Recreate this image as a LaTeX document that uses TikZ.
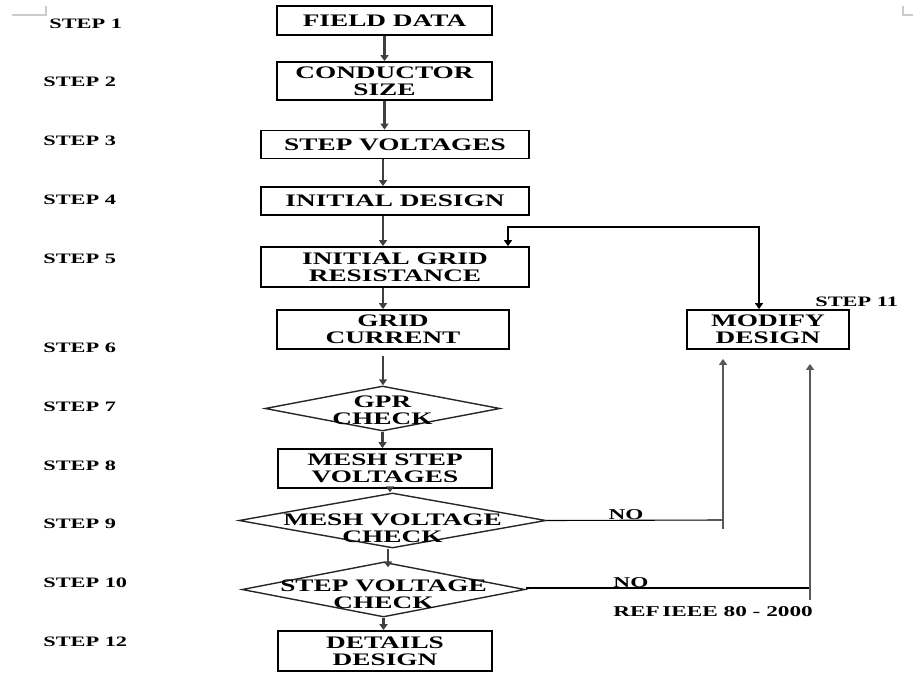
\documentclass[tikz,border=0pt]{standalone}
\usepackage{fontspec}
\setmainfont{Liberation Serif}[FakeStretch=1.55]
\usetikzlibrary{shapes.geometric, arrows.meta, positioning, calc}

\begin{document}
\begin{tikzpicture}[
    x=0.5pt, y=-0.5pt,
    >={Triangle[width=4pt,length=3pt]},
    procbox/.style={rectangle, draw=black, line width=0.9pt, inner sep=0pt, align=center, font=\fontsize{8.8}{8.5}\selectfont\bfseries},
    decision/.style={diamond, draw=black!85, line width=0.7pt, inner sep=0pt},
    dtext/.style={align=center, inner sep=0pt, font=\fontsize{8.8}{8.5}\selectfont\bfseries},
    steplabel/.style={anchor=west, inner sep=0pt, font=\fontsize{7.2}{8}\selectfont\bfseries},
    notelabel/.style={inner sep=0pt, font=\fontsize{7.5}{8}\selectfont\bfseries},
    flow/.style={->, draw=black!75, line width=1.2pt},
    loopline/.style={draw=black, line width=0.7pt},
    noline/.style={draw=black, line width=0.55pt},
    upline/.style={->, draw=black!65, line width=1.1pt},
    cornermark/.style={draw=black!20, line width=0.6pt}
]
\useasboundingbox (0,0) rectangle (913,673);

% Page corner marks
\draw[cornermark] (12,15) -- (46,15) -- (46,6);
\draw[cornermark] (903,6) -- (903,15) -- (913,15);

% Step labels
\node[steplabel] (step1) at (49,23.5) {STEP 1};
\foreach \num/\ypos in {2/82, 3/141, 4/200, 5/259, 6/348, 7/407, 8/466, 9/524, 10/583, 12/642}
    \node[steplabel] (step\num) at (43,\ypos) {STEP \num};
\node[steplabel] (step11) at (815,302) {STEP 11};

% Main column
\node[procbox, minimum width=107.5pt, minimum height=14.5pt] (field) at (384.5,20.5) {FIELD DATA};
\node[procbox, minimum width=107.5pt, minimum height=19pt] (cond) at (384.5,81) {CONDUCTOR\\SIZE};
\node[procbox, minimum width=134pt, minimum height=14pt] (stepv) at (395,144.5) {STEP VOLTAGES};
\node[procbox, minimum width=134pt, minimum height=14pt] (initd) at (395,201) {INITIAL DESIGN};
\node[procbox, minimum width=134pt, minimum height=20pt] (resist) at (395,267) {INITIAL GRID\\RESISTANCE};
\node[procbox, minimum width=116pt, minimum height=19.5pt] (gridc) at (393,329.5) {GRID\\CURRENT};
\node[decision, minimum width=117.5pt, minimum height=22.5pt] (gpr) at (382.5,408.5) {};
\node[dtext] (gprtext) at ([yshift=-1pt]gpr.center) {GPR\\CHECK};
\node[procbox, minimum width=107pt, minimum height=19.5pt] (meshv) at (385,468.5) {MESH STEP\\VOLTAGES};
\node[decision, minimum width=153.5pt, minimum height=27.5pt] (meshc) at (392.5,520.5) {};
\node[dtext] (meshtext) at ([yshift=-4pt]meshc.center) {MESH VOLTAGE\\CHECK};
\node[decision, minimum width=141.5pt, minimum height=27.5pt] (stepc) at (383.5,589.5) {};
\node[dtext] (steptext) at ([yshift=-2.5pt]stepc.center) {STEP VOLTAGE\\CHECK};
\node[procbox, minimum width=107pt, minimum height=20pt] (details) at (385,651) {DETAILS\\DESIGN};

% Side column
\node[procbox, minimum width=81pt, minimum height=19.5pt] (modify) at (768,329.5) {MODIFY\\DESIGN};

% Connections
\draw[flow] (field) -- (cond);
\draw[flow] (cond.south) -- (cond.south |- stepv.north);
\draw[flow] ([xshift=-6pt]stepv.south) -- ([xshift=-6pt]stepv.south |- initd.north);
\draw[flow] ([xshift=-6pt]initd.south) -- ([xshift=-6pt]initd.south |- resist.north);
\draw[flow] ([xshift=-6pt]resist.south) -- ([xshift=-6pt]resist.south |- gridc.north);
\draw[flow, shorten <=3pt] ([xshift=-5pt]gridc.south) -- ([xshift=-5pt]gridc.south |- gpr.north);
\draw[flow] (gpr.south) -- (gpr.south |- meshv.north);
\draw[flow] ([xshift=2.5pt]meshv.south) -- ([xshift=2.5pt]meshv.south |- meshc.north);
\draw[flow] ([xshift=-2.25pt]meshc.south) -- ([xshift=-2.25pt,yshift=-3pt]meshc.south |- stepc.north);
\draw[flow] (stepc.south) -- (stepc.south |- details.north);

% Feedback loop
\coordinate (looptop) at (508,227);
\draw[loopline, <->] ([xshift=-4.5pt]modify.north) |- (looptop) -- (looptop |- resist.north);

% NO branches
\coordinate (meshno) at (723,520);
\coordinate (meshnoend) at (723,529);
\draw[noline] (meshc.east) -- (meshno) node[pos=0.45, notelabel, above=0pt] {NO};
\draw[upline, shorten >=4.5pt] (meshnoend) -- (meshnoend |- modify.south);

\coordinate (stepno) at (810,588);
\coordinate (stepnoend) at (810,600);
\draw[noline] (stepc.east |- stepno) -- (stepno) node[pos=0.37, notelabel, above=0pt] {NO};
\draw[upline, shorten >=7pt] (stepnoend) -- (stepnoend |- modify.south);

\node[notelabel] (ieeeref) at (713,612) {REF\,IEEE 80 - 2000};

\end{tikzpicture}
\end{document}
